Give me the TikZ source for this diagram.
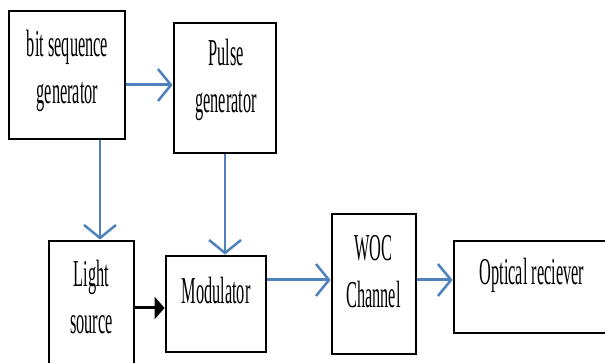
\documentclass[tikz,border=0pt]{standalone}
\usepackage{fontspec}
\newfontfamily\boxfont{Liberation Serif}[FakeStretch=0.43]
\usetikzlibrary{arrows.meta}
\definecolor{linkblue}{RGB}{79,129,189}

\begin{document}
\begin{tikzpicture}[
    x=1pt, y=1pt,
    block/.style={draw, line width=2.8pt, inner sep=0pt}, % Style for the boxes
    txt/.style={font=\boxfont\fontsize{38}{47}\selectfont, align=center, inner sep=0pt}, % Style for the box texts
    bluelink/.style={linkblue, line width=3pt, -{Straight Barb[length=13pt,width=32pt,line width=2.5pt]}}, % Blue arrows
    blacklink/.style={line width=3pt, -{Triangle[length=10pt,width=22pt]}} % Black arrow
]

% Frame of the picture
\clip (0,0) rectangle (605,363);

% Boxes
\node[block, minimum width=116pt, minimum height=128pt] (bsg) at (67,288) {};
\node[block, minimum width=102pt, minimum height=130pt] (pulse) at (225,275) {};
\node[block, minimum width=85pt, minimum height=140pt] (light) at (91.5,52) {};
\node[block, minimum width=100pt, minimum height=96pt] (mod) at (216,59) {};
\node[block, minimum width=84pt, minimum height=140pt] (woc) at (374,79) {};
\node[block, minimum width=170pt, minimum height=92pt] (opt) at (539,76) {};

% Texts
\node[txt] (bsgtxt) at (67.5,292) {bit sequence\\generator};
\node[txt] (pulsetxt) at (226,283) {Pulse\\generator};
\node[txt] (lighttxt) at (91.5,66) {Light\\source};
\node[txt] (modtxt) at (216,72) {Modulator};
\node[txt] (woctxt) at (373.5,91) {WOC\\Channel};
\node[txt] (opttxt) at (532,88) {Optical reciever};

% Arrows
\draw[bluelink] ([yshift=-10pt]bsg.east) -- ([yshift=-10pt]bsg.east -| pulse.west);
\draw[bluelink, line width=2pt] ([xshift=33pt]bsg.south) -- ([xshift=33pt]bsg.south |- light.north);
\draw[bluelink, line width=2pt] (pulse.south) -- (pulse.south |- mod.north);
\draw[blacklink] ([yshift=-4pt]mod.west -| light.east) -- ([yshift=-4pt]mod.west);
\draw[bluelink] ([yshift=24pt]mod.east) -- ([yshift=24pt]mod.east -| woc.west);
\draw[bluelink] ([yshift=4pt]woc.east) -- ([yshift=4pt]woc.east -| opt.west);

\end{tikzpicture}
\end{document}
